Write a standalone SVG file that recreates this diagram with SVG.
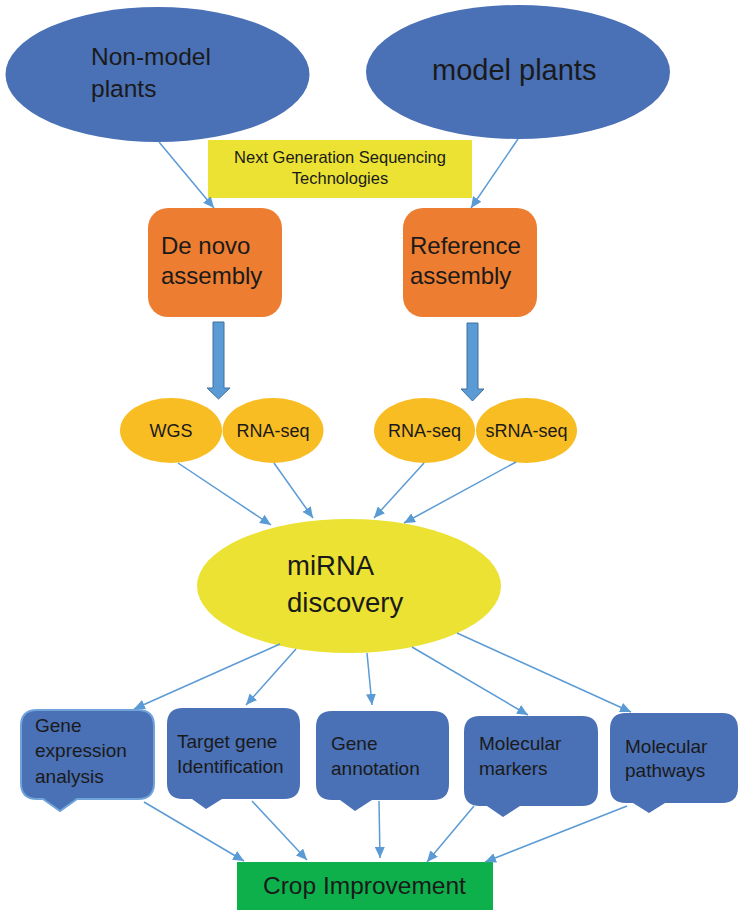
<svg xmlns="http://www.w3.org/2000/svg" width="738" height="910" viewBox="0 0 738 910">
  <defs>
    <marker id="arr" markerUnits="userSpaceOnUse" markerWidth="12" markerHeight="10" refX="11" refY="5" orient="auto">
      <path d="M0,0 L11,5 L0,10 Z" fill="#5B9BD5"/>
    </marker>
    <style>
      text { font-family: "Liberation Sans", Arial, sans-serif; fill: #1a1a1a; }
      .plant { fill: #4A70B5; }
      .asm { fill: #ED7D31; }
      .seq { fill: #F8BD23; }
      .ngs { fill: #EBE233; }
      .mirna { fill: #EBE233; }
      .app { fill: #4A70B5; }
      .crop { fill: #0EB04C; }
      .conn line { stroke: #5B9BD5; stroke-width: 1.5; fill: none; marker-end: url(#arr); }
      .block { fill: #5B9BD5; stroke: #41719C; stroke-width: 1; }
    </style>
  </defs>

  <!-- plant categories -->
  <g id="non-model-plants">
    <ellipse class="plant" cx="157.5" cy="74.5" rx="152" ry="67.5"/>
    <text x="91" y="65" font-size="24.5">Non-model</text>
    <text x="91" y="97" font-size="24.5">plants</text>
  </g>
  <g id="model-plants">
    <ellipse class="plant" cx="518" cy="72" rx="152" ry="67"/>
    <text x="432" y="80" font-size="29">model plants</text>
  </g>

  <!-- sequencing label -->
  <g id="ngs">
    <rect class="ngs" x="208" y="140" width="264" height="58"/>
    <text x="340" y="163" font-size="16.5" text-anchor="middle">Next Generation Sequencing</text>
    <text x="340" y="184" font-size="16.5" text-anchor="middle">Technologies</text>
  </g>

  <!-- assembly -->
  <g id="de-novo">
    <rect class="asm" x="148" y="208" width="134" height="109" rx="20"/>
    <text x="161" y="254" font-size="24">De novo</text>
    <text x="161" y="284" font-size="24">assembly</text>
  </g>
  <g id="reference">
    <rect class="asm" x="403" y="208" width="134" height="109" rx="20"/>
    <text x="410" y="254" font-size="24">Reference</text>
    <text x="410" y="284" font-size="24">assembly</text>
  </g>

  <!-- sequencing data types -->
  <g id="wgs">
    <ellipse class="seq" cx="171" cy="430.5" rx="51" ry="32.5"/>
    <text x="171" y="437" font-size="18" text-anchor="middle">WGS</text>
  </g>
  <g id="rnaseq-1">
    <ellipse class="seq" cx="273" cy="430.5" rx="50.5" ry="32.5"/>
    <text x="273" y="437" font-size="18" text-anchor="middle">RNA-seq</text>
  </g>
  <g id="rnaseq-2">
    <ellipse class="seq" cx="424.5" cy="430.5" rx="50.5" ry="32.5"/>
    <text x="424.5" y="437" font-size="18" text-anchor="middle">RNA-seq</text>
  </g>
  <g id="srnaseq">
    <ellipse class="seq" cx="526.5" cy="430.5" rx="50.5" ry="32.5"/>
    <text x="526.5" y="437" font-size="18" text-anchor="middle">sRNA-seq</text>
  </g>

  <!-- central node -->
  <g id="mirna">
    <ellipse class="mirna" cx="349" cy="586" rx="152" ry="67"/>
    <text x="287" y="575" font-size="27.5">miRNA</text>
    <text x="287" y="612" font-size="27.5">discovery</text>
  </g>

  <!-- applications (callout boxes) -->
  <g id="gene-expression">
    <path class="app" d="M37,710 H138 Q154,710 154,726 V783 Q154,799 138,799 H77 L60,811 L43,799 H37 Q21,799 21,783 V726 Q21,710 37,710 Z" stroke="#6FA3DA" stroke-width="2"/>
    <text x="35" y="732" font-size="19">Gene</text>
    <text x="35" y="757" font-size="19">expression</text>
    <text x="35" y="783" font-size="19">analysis</text>
  </g>
  <g id="target-gene">
    <path class="app" d="M183,708 H284 Q300,708 300,724 V783 Q300,799 284,799 H222 L206,809 L192,799 H183 Q167,799 167,783 V724 Q167,708 183,708 Z"/>
    <text x="177" y="748" font-size="19">Target gene</text>
    <text x="177" y="773" font-size="19">Identification</text>
  </g>
  <g id="gene-annotation">
    <path class="app" d="M332,711 H433 Q449,711 449,727 V784 Q449,800 433,800 H372 L355,811 L340,800 H332 Q316,800 316,784 V727 Q316,711 332,711 Z"/>
    <text x="331" y="750" font-size="19">Gene</text>
    <text x="331" y="775" font-size="19">annotation</text>
  </g>
  <g id="molecular-markers">
    <path class="app" d="M480,716 H582 Q598,716 598,732 V790 Q598,806 582,806 H520 L503,817 L487,806 H480 Q464,806 464,790 V732 Q464,716 480,716 Z"/>
    <text x="479" y="750" font-size="19">Molecular</text>
    <text x="479" y="775" font-size="19">markers</text>
  </g>
  <g id="molecular-pathways">
    <path class="app" d="M626,713 H722 Q738,713 738,729 V787 Q738,803 722,803 H665 L649,813 L633,803 H626 Q610,803 610,787 V729 Q610,713 626,713 Z"/>
    <text x="625" y="753" font-size="19">Molecular</text>
    <text x="625" y="777" font-size="19">pathways</text>
  </g>

  <!-- outcome -->
  <g id="crop-improvement">
    <rect class="crop" x="237" y="862" width="256" height="48"/>
    <text x="263" y="894" font-size="24.5">Crop Improvement</text>
  </g>

  <!-- block arrows from assemblies to data types -->
  <g id="block-arrows">
    <path class="block" d="M213,322 H224 V388 H230 L218.5,399 L207,388 H213 Z"/>
    <path class="block" d="M467,323 H478 V389 H484 L472.5,401 L461,389 H467 Z"/>
  </g>

  <!-- connectors -->
  <g class="conn" id="connectors">
    <line x1="159" y1="142" x2="214" y2="208"/>
    <line x1="518" y1="139" x2="471" y2="208"/>

    <line x1="178" y1="463" x2="271" y2="525"/>
    <line x1="274" y1="463" x2="313" y2="518"/>
    <line x1="424" y1="463" x2="374" y2="518"/>
    <line x1="516" y1="462" x2="404" y2="523"/>

    <line x1="280" y1="644" x2="134" y2="709"/>
    <line x1="296" y1="649" x2="246" y2="705"/>
    <line x1="367" y1="653" x2="372" y2="705"/>
    <line x1="412" y1="647" x2="528" y2="715"/>
    <line x1="457" y1="633" x2="631" y2="712"/>

    <line x1="144" y1="802" x2="244" y2="861"/>
    <line x1="252" y1="801" x2="307" y2="860"/>
    <line x1="379" y1="801" x2="380" y2="858"/>
    <line x1="474" y1="806" x2="427" y2="862"/>
    <line x1="627" y1="806" x2="485" y2="862"/>
  </g>
</svg>
